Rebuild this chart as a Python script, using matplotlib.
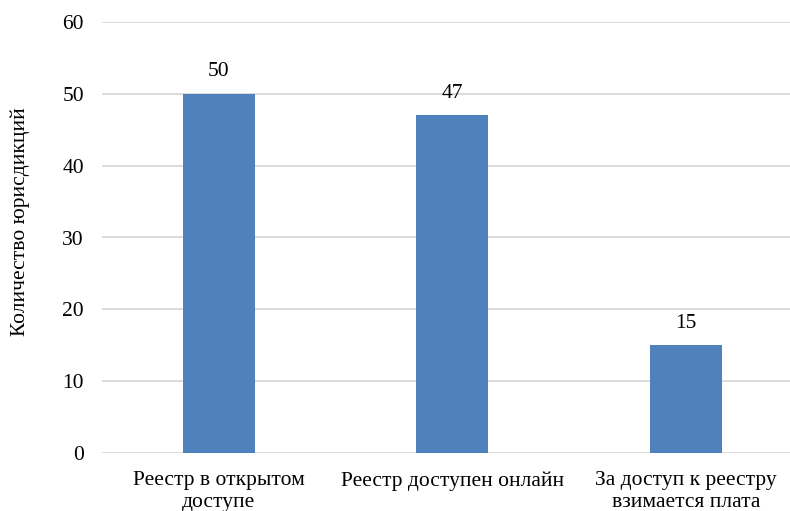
import matplotlib.pyplot as plt

categories = ["Реестр в открытом\nдоступе", "Реестр доступен онлайн", "За доступ к реестру\nвзимается плата"]
values = [50, 47, 15]
y_ticks = [0, 10, 20, 30, 40, 50, 60]

plt.rcParams['font.family'] = ['Liberation Serif', 'DejaVu Serif']
FS = 15.5

fig = plt.figure(figsize=(7.9, 5.11), dpi=100)
W, H = 790, 511
left, bottom, top = 102, 58, 489
ax = fig.add_axes([left / W, bottom / H, (W - left) / W, (top - bottom) / H])

x = list(range(len(categories)))
bars = ax.bar(x, values, width=0.31, color="#4F81BD", zorder=3)

for xi, v in zip(x, values):
    ax.annotate(f"{v}", (xi, v), xytext=(0, 9), textcoords="offset points",
                ha="center", va="bottom", fontsize=FS)

ax.set_xlim(-0.5, -0.5 + (W - left) / 233.5)
ax.set_ylim(0, 60)
ax.set_yticks(y_ticks)
ax.set_xticks(x)
ax.set_xticklabels(categories, fontsize=FS, linespacing=1.22)
ax.tick_params(axis="y", length=0, pad=13, labelsize=FS)
ax.tick_params(axis="x", length=0, pad=13)
ax.yaxis.grid(True, color="#D9D9D9", linewidth=1.3, zorder=0)
for s in ax.spines.values():
    s.set_visible(False)

fig.text(20 / W, (H - 222) / H, "Количество юрисдикций",
         rotation=90, ha="center", va="center", fontsize=FS)

fig.savefig("out.png", dpi=100)
